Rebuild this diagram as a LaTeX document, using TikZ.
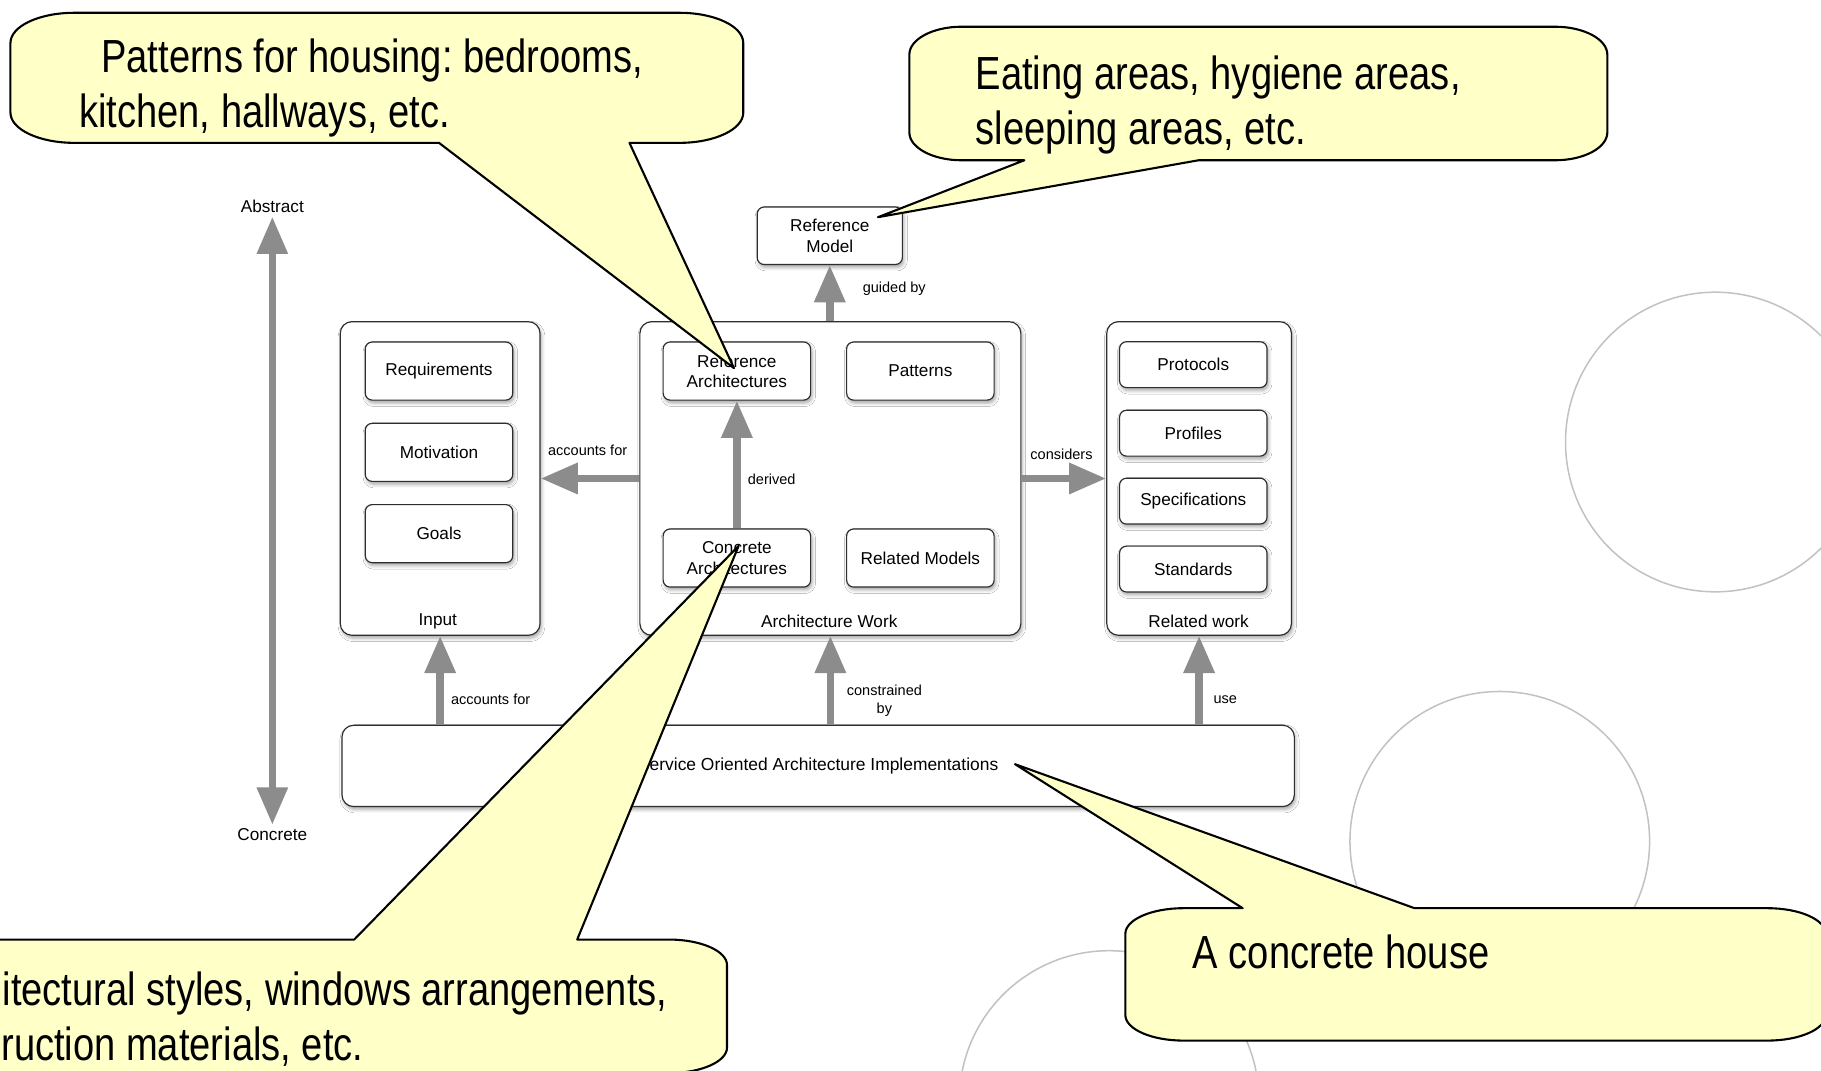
\documentclass[tikz,border=0pt]{standalone}
\usepackage{fontspec}
\setmainfont{Liberation Sans}
\newfontfamily\notefont[FakeStretch=0.82]{Liberation Sans}
\usetikzlibrary{arrows.meta,shadows.blur}
\frenchspacing

\definecolor{flowgray}{HTML}{8C8C8C}
\definecolor{noteyellow}{HTML}{FFFFC8}
\definecolor{ringgray}{HTML}{C2C2C2}
\definecolor{edgedark}{HTML}{2E2E2E}

\tikzset{
  softshadow/.style={blur shadow={shadow xshift=1.2pt, shadow yshift=-2.5pt, shadow blur radius=3pt, shadow opacity=35}},
  item/.style={draw=edgedark, line width=1pt, rounded corners=6pt, fill=white, softshadow,
    align=center, inner sep=0pt, font=\fontsize{14.8}{17.5}\selectfont},
  wideitem/.style={item, minimum width=127pt, minimum height=50pt},
  slimitem/.style={item, minimum width=127pt, minimum height=39.5pt},
  group/.style={draw=edgedark, line width=1pt, rounded corners=10pt, fill=white, softshadow,
    inner sep=0pt, font=\fontsize{15}{18}\selectfont},
  grouplabel/.style={font=\fontsize{14.8}{17.5}\selectfont, inner sep=0pt},
  flow/.style={draw=flowgray, line width=6.5pt, -{Triangle[width=25.5pt,length=32pt]}},
  flowlabel/.style={font=\fontsize{12.5}{15.5}\selectfont, align=center, inner sep=0pt},
  ring/.style={draw=ringgray, line width=1.3pt},
  note/.style={draw=black, line width=1.8pt, fill=noteyellow, line join=round},
  notetext/.style={font=\notefont\fontsize{40}{48}\selectfont, inner sep=0pt, anchor=base west},
}

\begin{document}
\begin{tikzpicture}[x=1pt,y=-1pt]
\clip (0,0) rectangle (1568,922);
\fill[white] (0,0) rectangle (1568,922);

% background rings
\draw[ring] (1477,380.6) circle[radius=129];
\draw[ring] (1291.4,724.4) circle[radius=129];
\draw[ring] (955,947.6) circle[radius=129];

% containers
\node[group, minimum width=172pt, minimum height=270pt] (input) at (379,412) {};
\node[group, minimum width=328pt, minimum height=270pt] (arch) at (715,412) {};
\node[group, minimum width=159pt, minimum height=270pt] (related) at (1032.5,412) {};
\node[group, minimum width=820pt, minimum height=70pt] (soa) at (704.5,659.5)
  {Service Oriented Architecture Implementations};

\node[grouplabel] (inputlbl) at (377,535) {Input};
\node[grouplabel] (archlbl) at (714,535) {Architecture Work};
\node[grouplabel] (rellbl) at (1032,535) {Related work};

% input items
\node[wideitem] (req) at (378,319.5) {Requirements};
\node[wideitem] (mot) at (378,389.5) {Motivation};
\node[wideitem] (goals) at (378,459.5) {Goals};

% architecture work items
\node[wideitem] (refarch) at (634.5,319.5) {Reference\\Architectures};
\node[wideitem] (patterns) at (792.5,319.5) {Patterns};
\node[wideitem] (concarch) at (634.5,480.5) {Concrete\\Architectures};
\node[wideitem] (relmodels) at (792.5,480.5) {Related Models};

% related work items
\node[slimitem] (protocols) at (1027.5,314) {Protocols};
\node[slimitem] (profiles) at (1027.5,373) {Profiles};
\node[slimitem] (specs) at (1027.5,431.5) {Specifications};
\node[slimitem] (standards) at (1027.5,490) {Standards};

\node[item, minimum width=125pt, minimum height=49.5pt] (refmodel) at (714.5,203) {Reference\\Model};

% abstraction axis
\node[grouplabel] (abstract) at (234.5,178) {Abstract};
\node[grouplabel] (concrete) at (234.5,718.5) {Concrete};
\draw[flow, line width=6pt, {Triangle[width=25.5pt,length=32pt]}-{Triangle[width=25.5pt,length=32pt]},
  shorten <=3pt, shorten >=3pt] (concrete.north) -- (abstract.south);

% relations
\draw[flow] (refmodel.south |- arch.north) -- (refmodel.south);
\draw[flow] (arch.west) -- (input.east);
\draw[flow] (arch.east) -- (related.west);
\draw[flow] (concarch.north) -- (refarch.south);
\draw[flow] (input.south |- soa.north) -- (input.south);
\draw[flow] (arch.south |- soa.north) -- (arch.south);
\draw[flow] (related.south |- soa.north) -- (related.south);

\node[flowlabel] (guidedlbl) at (770,249) {guided by};
\node[flowlabel] (acc1lbl) at (506,388) {accounts for};
\node[flowlabel] (derivedlbl) at (664.5,413) {derived};
\node[flowlabel] (considerslbl) at (914,391) {considers};
\node[flowlabel] (acc2lbl) at (422.5,602.5) {accounts for};
\node[flowlabel] (constrlbl) at (761.5,603) {constrained\\by};
\node[flowlabel] (uselbl) at (1055,602.5) {use};

% callout: housing patterns
\draw[note] (378,123) -- (632,317) -- (542,123) -- (585,123)
  .. controls (615.4,123) and (640,111.4) .. (640,97) -- (640,37)
  .. controls (640,22.6) and (615.4,11) .. (585,11) -- (64,11)
  .. controls (33.6,11) and (9,22.6) .. (9,37) -- (9,97)
  .. controls (9,111.4) and (33.6,123) .. (64,123) -- cycle;
\node[notetext] (notea1) at (87,62) {Patterns for housing: bedrooms,};
\node[notetext] (notea2) at (68,110) {kitchen, hallways, etc.};

% callout: areas
\draw[note] (882,138) -- (756,187) -- (1032,138) -- (1339,138)
  .. controls (1363.8,138) and (1384,127.2) .. (1384,114) -- (1384,47)
  .. controls (1384,33.8) and (1363.8,23) .. (1339,23) -- (828,23)
  .. controls (803.2,23) and (783,33.8) .. (783,47) -- (783,114)
  .. controls (783,127.2) and (803.2,138) .. (828,138) -- cycle;
\node[notetext] (noteb1) at (840,77) {Eating areas, hygiene areas,};
\node[notetext] (noteb2) at (840,124) {sleeping areas, etc.};

% callout: styles and materials
\draw[note] (305,809) -- (636,470) -- (497,809) -- (576,809)
  .. controls (603.6,809) and (626,818.9) .. (626,831) -- (626,902)
  .. controls (626,914.1) and (603.6,924) .. (576,924) -- (-10,924)
  .. controls (-37.6,924) and (-60,914.1) .. (-60,902) -- (-60,831)
  .. controls (-60,818.9) and (-37.6,809) .. (-10,809) -- cycle;
\node[notetext] (notec1) at (2,866) {itectural styles, windows arrangements,};
\node[notetext] (notec2) at (1,913) {ruction materials, etc.};

% callout: concrete house
\draw[note] (1070,782) -- (874,658) -- (1218,782) -- (1522,782)
  .. controls (1549.6,782) and (1572,791.9) .. (1572,804) -- (1572,874)
  .. controls (1572,886.1) and (1549.6,896) .. (1522,896) -- (1019,896)
  .. controls (991.4,896) and (969,886.1) .. (969,874) -- (969,804)
  .. controls (969,791.9) and (991.4,782) .. (1019,782) -- cycle;
\node[notetext] (noted1) at (1027,834) {A concrete house};
\end{tikzpicture}
\end{document}
